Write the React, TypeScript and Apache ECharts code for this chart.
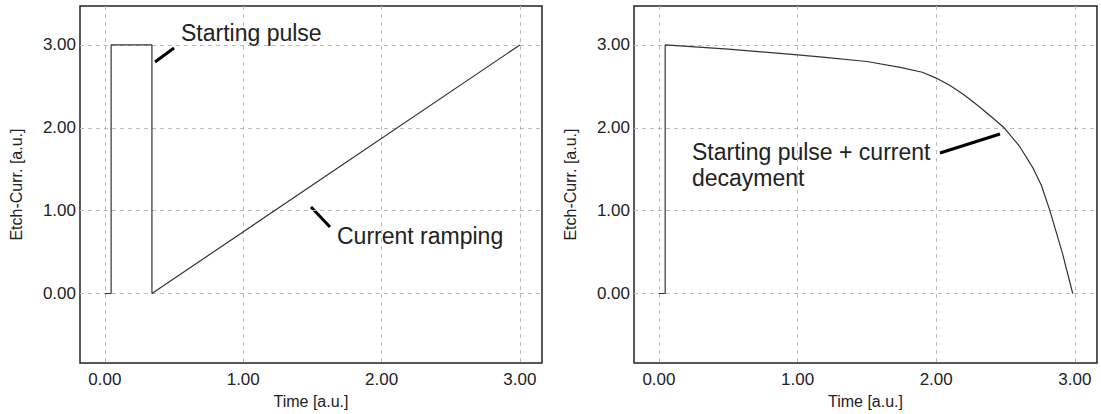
import React, { useEffect, useRef } from "react";
import * as echarts from "echarts";

const xTicks = [0, 1, 2, 3];
const yTicks = [0, 1, 2, 3];

const rampTime = [0, 0.045, 0.045, 0.34, 0.34, 3.0];
const rampCurr = [0, 0, 3.0, 3.0, 0, 3.0];

const decayTime = [0, 0.045, 0.045, 0.5, 1.0, 1.2, 1.5, 1.74, 1.9, 2.0, 2.1, 2.2, 2.3, 2.4, 2.49, 2.6, 2.7, 2.76, 2.82, 2.91, 2.985];
const decayCurr = [0, 0, 3.0, 2.95, 2.88, 2.85, 2.8, 2.73, 2.67, 2.6, 2.51, 2.4, 2.27, 2.13, 2.0, 1.78, 1.51, 1.3, 1.0, 0.49, 0];

const FONT = "'Liberation Sans', Arial, sans-serif";

function makeXAxis(gridIndex: number) {
  return {
    type: "value",
    gridIndex,
    min: -0.18,
    max: 3.16,
    name: "Time [a.u.]",
    nameLocation: "middle",
    nameGap: 28,
    nameTextStyle: { color: "#222", fontSize: 16, fontFamily: FONT, verticalAlign: "top" },
    axisLine: { show: false },
    axisTick: { show: false, customValues: xTicks },
    axisLabel: {
      customValues: xTicks,
      formatter: (v: number) => v.toFixed(2),
      color: "#222",
      fontSize: 17,
      fontFamily: FONT,
      margin: 8,
    },
    splitLine: { show: true, lineStyle: { color: "#bbb", type: [4, 4], width: 1 } },
  };
}

function makeYAxis(gridIndex: number) {
  return {
    type: "value",
    gridIndex,
    min: -0.84,
    max: 3.47,
    name: "Etch-Curr. [a.u.]",
    nameLocation: "middle",
    nameGap: 56,
    nameRotate: 90,
    nameTextStyle: { color: "#222", fontSize: 16, fontFamily: FONT },
    axisLine: { show: false },
    axisTick: { show: false, customValues: yTicks },
    axisLabel: {
      customValues: yTicks,
      formatter: (v: number) => v.toFixed(2),
      color: "#222",
      fontSize: 17,
      fontFamily: FONT,
      margin: 4,
    },
    splitLine: { show: true, lineStyle: { color: "#bbb", type: [4, 4], width: 1 } },
  };
}

function pairs(xs: number[], ys: number[]) {
  return xs.map((x, i) => [x, ys[i]]);
}

export default function App() {
  const ref = useRef<HTMLDivElement>(null);
  useEffect(() => {
    if (!ref.current) return;
    const chart = echarts.init(ref.current, null, { renderer: "svg" });
    const annoText = { fill: "#222", fontSize: 23, fontFamily: FONT };
    chart.setOption({
      animation: false,
      backgroundColor: "#fff",
      grid: [
        { left: 80, top: 6, width: 462, height: 358, show: true, borderColor: "#222", borderWidth: 1.5, backgroundColor: "transparent" },
        { left: 634, top: 6, width: 463, height: 358, show: true, borderColor: "#222", borderWidth: 1.5, backgroundColor: "transparent" },
      ],
      xAxis: [makeXAxis(0), makeXAxis(1)],
      yAxis: [makeYAxis(0), makeYAxis(1)],
      series: [
        {
          type: "line",
          xAxisIndex: 0,
          yAxisIndex: 0,
          data: pairs(rampTime, rampCurr),
          showSymbol: false,
          lineStyle: { color: "#333", width: 1.2 },
        },
        {
          type: "line",
          xAxisIndex: 1,
          yAxisIndex: 1,
          data: pairs(decayTime, decayCurr),
          showSymbol: false,
          lineStyle: { color: "#333", width: 1.2 },
        },
      ],
      graphic: [
        { type: "text", left: 181, top: 21, style: { ...annoText, text: "Starting pulse" } },
        { type: "line", shape: { x1: 155, y1: 62, x2: 174, y2: 48 }, style: { stroke: "#000", lineWidth: 3 } },
        { type: "text", left: 337, top: 224, style: { ...annoText, text: "Current ramping" } },
        { type: "line", shape: { x1: 311, y1: 207, x2: 330, y2: 227 }, style: { stroke: "#000", lineWidth: 3 } },
        { type: "text", left: 692, top: 139, style: { ...annoText, text: "Starting pulse + current\ndecayment", lineHeight: 26 } },
        { type: "line", shape: { x1: 940, y1: 153, x2: 1000, y2: 134 }, style: { stroke: "#000", lineWidth: 3 } },
      ],
    });
    return () => chart.dispose();
  }, []);
  return (
    <div
      ref={ref}
      style={{ position: "fixed", left: 0, top: 0, width: 1101, height: 414, background: "#fff" }}
    />
  );
}
